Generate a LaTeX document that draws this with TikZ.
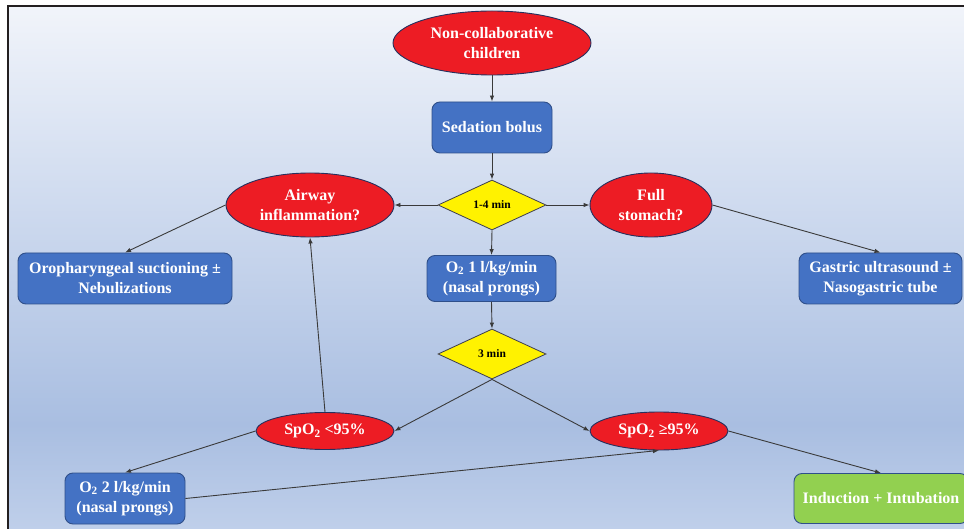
\documentclass[tikz,border=0pt]{standalone}
\usepackage{fontspec}
\setmainfont{Liberation Serif}
\usetikzlibrary{shapes.geometric,arrows.meta}
\definecolor{nodered}{HTML}{ED1C24}
\definecolor{ellline}{HTML}{25305E}
\definecolor{boxblue}{HTML}{4472C4}
\definecolor{boxline}{HTML}{2F4F8A}
\definecolor{diayellow}{HTML}{FFF200}
\definecolor{dialine}{HTML}{3C3C50}
\definecolor{boxgreen}{HTML}{92D050}
\definecolor{bgtop}{HTML}{F1F4FA}
\definecolor{bgupper}{HTML}{D2DDF0}
\definecolor{bgmid}{HTML}{A9BEE1}
\definecolor{bgbot}{HTML}{BFCFEA}
\definecolor{framecol}{HTML}{231F20}
\definecolor{arrowcol}{HTML}{3A3A3A}
\pgfdeclareverticalshading{bgshade}{100bp}{color(0bp)=(bgbot); color(25bp)=(bgbot); color(35bp)=(bgmid); color(58bp)=(bgupper); color(75bp)=(bgtop); color(100bp)=(bgtop)}
\newcommand\myNodeFont{\fontsize{16}{20}\selectfont\bfseries}
\newcommand\myDiaFont{\fontsize{11.5}{14}\selectfont\bfseries}
\tikzset{
  redell/.style={ellipse, draw=ellline, line width=0.9pt, fill=nodered, text=white,
    font=\myNodeFont, align=center, inner sep=0pt},
  bluebox/.style={rectangle, rounded corners=8pt, draw=boxline, line width=0.9pt,
    fill=boxblue, text=white, font=\myNodeFont, align=center, inner sep=0pt},
  greenbox/.style={bluebox, fill=boxgreen},
  decision/.style={diamond, draw=dialine, line width=0.8pt, fill=diayellow, text=black,
    font=\myDiaFont, inner sep=0pt, minimum width=108pt, minimum height=50pt},
  conn/.style={draw=arrowcol, line width=0.9pt, -{Latex[length=6pt,width=4.5pt]}},
}
\begin{document}
\begin{tikzpicture}[x=1pt,y=-1pt]
\useasboundingbox (0,0) rectangle (964,529);
\shade[shading=bgshade] (8,6) rectangle (964,529);
\draw[framecol, line width=1.5pt] (8,529) -- (8,6) -- (964,6);

\node[redell, minimum width=198pt, minimum height=64pt] (nc) at (492,43) {Non-collaborative\\children};
\node[bluebox, minimum width=120pt, minimum height=51pt] (sed) at (492,127.5) {Sedation bolus};
\node[decision] (d1) at (492,205) {1-4 min};
\node[redell, minimum width=168pt, minimum height=64pt] (air) at (310,205) {Airway\\inflammation?};
\node[redell, minimum width=122pt, minimum height=64pt] (full) at (651,205) {Full\\stomach?};
\node[bluebox, minimum width=214pt, minimum height=51pt] (oro) at (125,278.5) {Oropharyngeal suctioning ±\\Nebulizations};
\node[bluebox, minimum width=129pt, minimum height=46pt] (o21) at (491.5,278.5) {O\textsubscript{2} 1 l/kg/min\\(nasal prongs)};
\node[bluebox, minimum width=163pt, minimum height=51pt] (gas) at (880.5,278.5) {Gastric ultrasound ±\\Nasogastric tube};
\node[decision] (d3) at (492,354) {3 min};
\node[redell, minimum width=138pt, minimum height=37pt] (slo) at (325,431) {SpO\textsubscript{2} <95\%};
\node[redell, minimum width=138pt, minimum height=38pt] (shi) at (659,431) {SpO\textsubscript{2} ≥95\%};
\node[bluebox, minimum width=120pt, minimum height=51pt] (o22) at (125,498.5) {O\textsubscript{2} 2 l/kg/min\\(nasal prongs)};
\node[greenbox, minimum width=174pt, minimum height=50pt] (ind) at (881,498.5) {Induction + Intubation};

\draw[conn] (nc.south) -- (sed.north);
\draw[conn] (sed.south) -- (d1.north);
\draw[conn] (d1.west) -- (air.east);
\draw[conn] (d1.east) -- (full.west);
\draw[conn] (d1.south) -- (o21.north);
\draw[conn] (o21.south) -- (d3.north);
\draw[conn] (air.west) -- (oro.north);
\draw[conn] (full.east) -- (gas.north);
\draw[conn] (d3.south) -- (slo.east);
\draw[conn] (d3.south) -- (shi.west);
\draw[conn] (slo.north) -- (air.south);
\draw[conn] (slo.west) -- (o22.north);
\draw[conn] (o22.east) -- (shi.south);
\draw[conn] (shi.east) -- (ind.north);
\end{tikzpicture}
\end{document}
